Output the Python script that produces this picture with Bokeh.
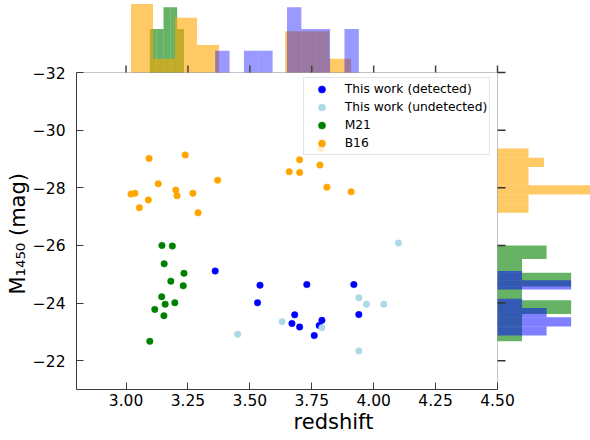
import numpy as np
from bokeh.plotting import figure
from bokeh.models import Range1d, FixedTicker, BoxAnnotation, Title
from bokeh.embed import file_html
from bokeh.resources import INLINE

# ---------------- data ----------------
det_z = [3.360, 3.541, 3.531, 3.730, 3.681, 3.670, 3.701, 3.760, 3.780, 3.791, 3.920, 3.940]
det_m = [-25.11, -24.62, -24.01, -24.64, -23.59, -23.29, -23.17, -22.87, -23.22, -23.40, -24.64, -23.60]

und_z = [3.451, 3.630, 3.791, 3.940, 3.971, 4.041, 4.100, 3.940]
und_m = [-22.92, -23.35, -23.14, -24.18, -23.96, -23.96, -26.08, -22.34]

m21_z = [3.145, 3.187, 3.154, 3.234, 3.181, 3.231, 3.144, 3.158, 3.197, 3.116, 3.153, 3.096]
m21_m = [-26.00, -25.98, -25.36, -25.03, -24.76, -24.60, -24.22, -23.96, -24.01, -23.78, -23.56, -22.67]

b16_z = [3.020, 3.036, 3.054, 3.090, 3.093, 3.130, 3.201, 3.206, 3.239, 3.270, 3.291, 3.370,
         3.659, 3.701, 3.701, 3.787, 3.783, 3.811, 3.909]
b16_m = [-27.78, -27.81, -27.31, -27.58, -29.02, -28.14, -27.92, -27.72, -29.14, -27.81, -27.13, -28.26,
         -28.56, -28.97, -28.53, -29.36, -28.79, -28.02, -27.86]

labels = ["This work (detected)", "This work (undetected)", "M21", "B16"]
colors = ["blue", "lightblue", "green", "orange"]

# histogram bin counts (top: redshift, right: magnitude)
top_bins = {"M21": 5, "B16": 10, "det": 10}
right_bins = {"M21": 7, "B16": 7, "det": 7}

x_ticks = [3.0, 3.25, 3.5, 3.75, 4.0, 4.25, 4.5]
x_tick_labels = ["3.00", "3.25", "3.50", "3.75", "4.00", "4.25", "4.50"]
y_ticks = [-32, -30, -28, -26, -24, -22]
y_tick_labels = ["\u221232", "\u221230", "\u221228", "\u221226", "\u221224", "\u221222"]

x_title = "redshift"
y_title = "M\u2081\u2084\u2085\u2080 (mag)"

X_LIM = (2.8, 4.5)
Y_LIM = (-21, -32)          # (bottom, top): magnitudes increase downward

FONT = "DejaVu Sans"
AX = "#3a3a3a"

# ---------------- layout geometry (pixels) ----------------
W, H = 590, 440
LEFT_B, BOT_B = 76, 51
TOP_H, RIGHT_W = 72, 93
MAIN_W = W - LEFT_B - RIGHT_W     # scatter panel width
MAIN_H = H - BOT_B - TOP_H        # scatter panel height


def frac_hist(vals, nb):
    counts, edges = np.histogram(np.asarray(vals), bins=nb)
    return counts / len(vals), edges


top_data = [("M21", m21_z, "green", 0.6), ("B16", b16_z, "orange", 0.6), ("det", det_z, "blue", 0.4)]
top_hists = [(frac_hist(v, top_bins[k]), c, a) for k, v, c, a in top_data]
top_ymax = 1.05 * max(h[0].max() for h, c, a in top_hists)

right_data = [("M21", m21_m, "green", 0.6), ("B16", b16_m, "orange", 0.6), ("det", det_m, "blue", 0.5)]
right_hists = [(frac_hist(v, right_bins[k]), c, a) for k, v, c, a in right_data]
right_xmax = max(h[0].max() for h, c, a in right_hists)

# main ranges are extended so the marginal panels share one frame
xspan = X_LIM[1] - X_LIM[0]
yspan = Y_LIM[1] - Y_LIM[0]
xr = Range1d(X_LIM[0], X_LIM[1] + xspan * RIGHT_W / MAIN_W)
yr = Range1d(Y_LIM[0], Y_LIM[1] + yspan * TOP_H / MAIN_H)

p = figure(width=W, height=H, x_range=xr, y_range=yr, output_backend="svg",
           toolbar_location=None, min_border_left=LEFT_B, min_border_right=0,
           min_border_top=0, min_border_bottom=BOT_B)
p.extra_x_ranges = {"rx": Range1d(-right_xmax * MAIN_W / RIGHT_W, right_xmax)}
p.extra_y_ranges = {"ty": Range1d(-top_ymax * MAIN_H / TOP_H, top_ymax)}
p.grid.visible = False
p.outline_line_color = None
p.background_fill_color = "white"
p.border_fill_color = "white"

# ---------------- marginal histograms ----------------
for (fr, ed), c, a in top_hists:
    p.quad(left=ed[:-1], right=ed[1:], bottom=0, top=fr, fill_color=c, fill_alpha=a,
           line_color=None, y_range_name="ty")
for (fr, ed), c, a in right_hists:
    p.quad(left=0, right=fr, bottom=ed[:-1], top=ed[1:], fill_color=c, fill_alpha=a,
           line_color=None, x_range_name="rx")

# inward ticks of the marginal panels
top_tick_len = top_ymax * 7.0 / TOP_H
p.segment(x0=x_ticks, y0=[0] * len(x_ticks), x1=x_ticks, y1=[top_tick_len] * len(x_ticks),
          line_color="#444444", line_width=1.5, y_range_name="ty")
rt_tick_len = right_xmax * 8.0 / RIGHT_W
p.segment(x0=[0] * len(y_ticks), y0=y_ticks, x1=[rt_tick_len] * len(y_ticks), y1=y_ticks,
          line_color="#333333", line_width=1.5, x_range_name="rx")

# ---------------- scatter ----------------
series = [(det_z, det_m), (und_z, und_m), (m21_z, m21_m), (b16_z, b16_m)]
for (zz, mm), lab, col in zip(series, labels, colors):
    p.scatter(zz, mm, size=6.5, fill_color=col, line_color=col, line_width=0.5,
              legend_label=lab)

# box around the scatter panel
p.add_layout(BoxAnnotation(left=X_LIM[0], right=X_LIM[1], bottom=Y_LIM[0], top=Y_LIM[1],
                           fill_alpha=0, line_color=AX, line_width=1))

# ---------------- axes ----------------
xa = p.xaxis[0]
xa.bounds = X_LIM
xa.ticker = FixedTicker(ticks=x_ticks)
xa.major_label_overrides = dict(zip(x_ticks, x_tick_labels))
xa.minor_tick_line_color = None
xa.major_tick_in = 7
xa.major_tick_out = 0
xa.major_tick_line_color = AX
xa.axis_line_color = AX
xa.major_label_text_font = FONT
xa.major_label_text_font_size = "15.5px"
xa.major_label_text_color = "black"
xa.major_label_standoff = 4
xa.axis_label = x_title
xa.axis_label_text_font = FONT
xa.axis_label_text_font_size = "21px"
xa.axis_label_text_font_style = "normal"
xa.axis_label_text_color = "black"
xa.axis_label_standoff = 1

ya = p.yaxis[0]
ya.bounds = (Y_LIM[1], Y_LIM[0])
ya.ticker = FixedTicker(ticks=y_ticks)
ya.major_label_overrides = dict(zip(y_ticks, y_tick_labels))
ya.minor_tick_line_color = None
ya.major_tick_in = 7
ya.major_tick_out = 0
ya.major_tick_line_color = AX
ya.axis_line_color = AX
ya.major_label_text_font = FONT
ya.major_label_text_font_size = "15.5px"
ya.major_label_text_color = "black"
ya.major_label_standoff = 11

# y-axis title, placed beside the scatter panel (starts ~95 px above the frame bottom)
p.add_layout(Title(text=y_title, align="left", offset=95, standoff=0,
                   text_font=FONT, text_font_size="21px", text_font_style="normal",
                   text_color="black"), "left")

# ---------------- legend ----------------
lg = p.legend[0]
lg.location = (226.7, 234)
lg.padding = 2
lg.spacing = 0
lg.glyph_width = 31
lg.glyph_height = 18
lg.label_height = 18
lg.label_standoff = 8
lg.label_text_font = FONT
lg.label_text_font_size = "12.3px"
lg.label_text_color = "black"
lg.border_line_color = "#cccccc"
lg.border_line_width = 1
lg.background_fill_color = "white"
lg.background_fill_alpha = 0.8

open("out.html", "w").write(file_html(p, INLINE))
